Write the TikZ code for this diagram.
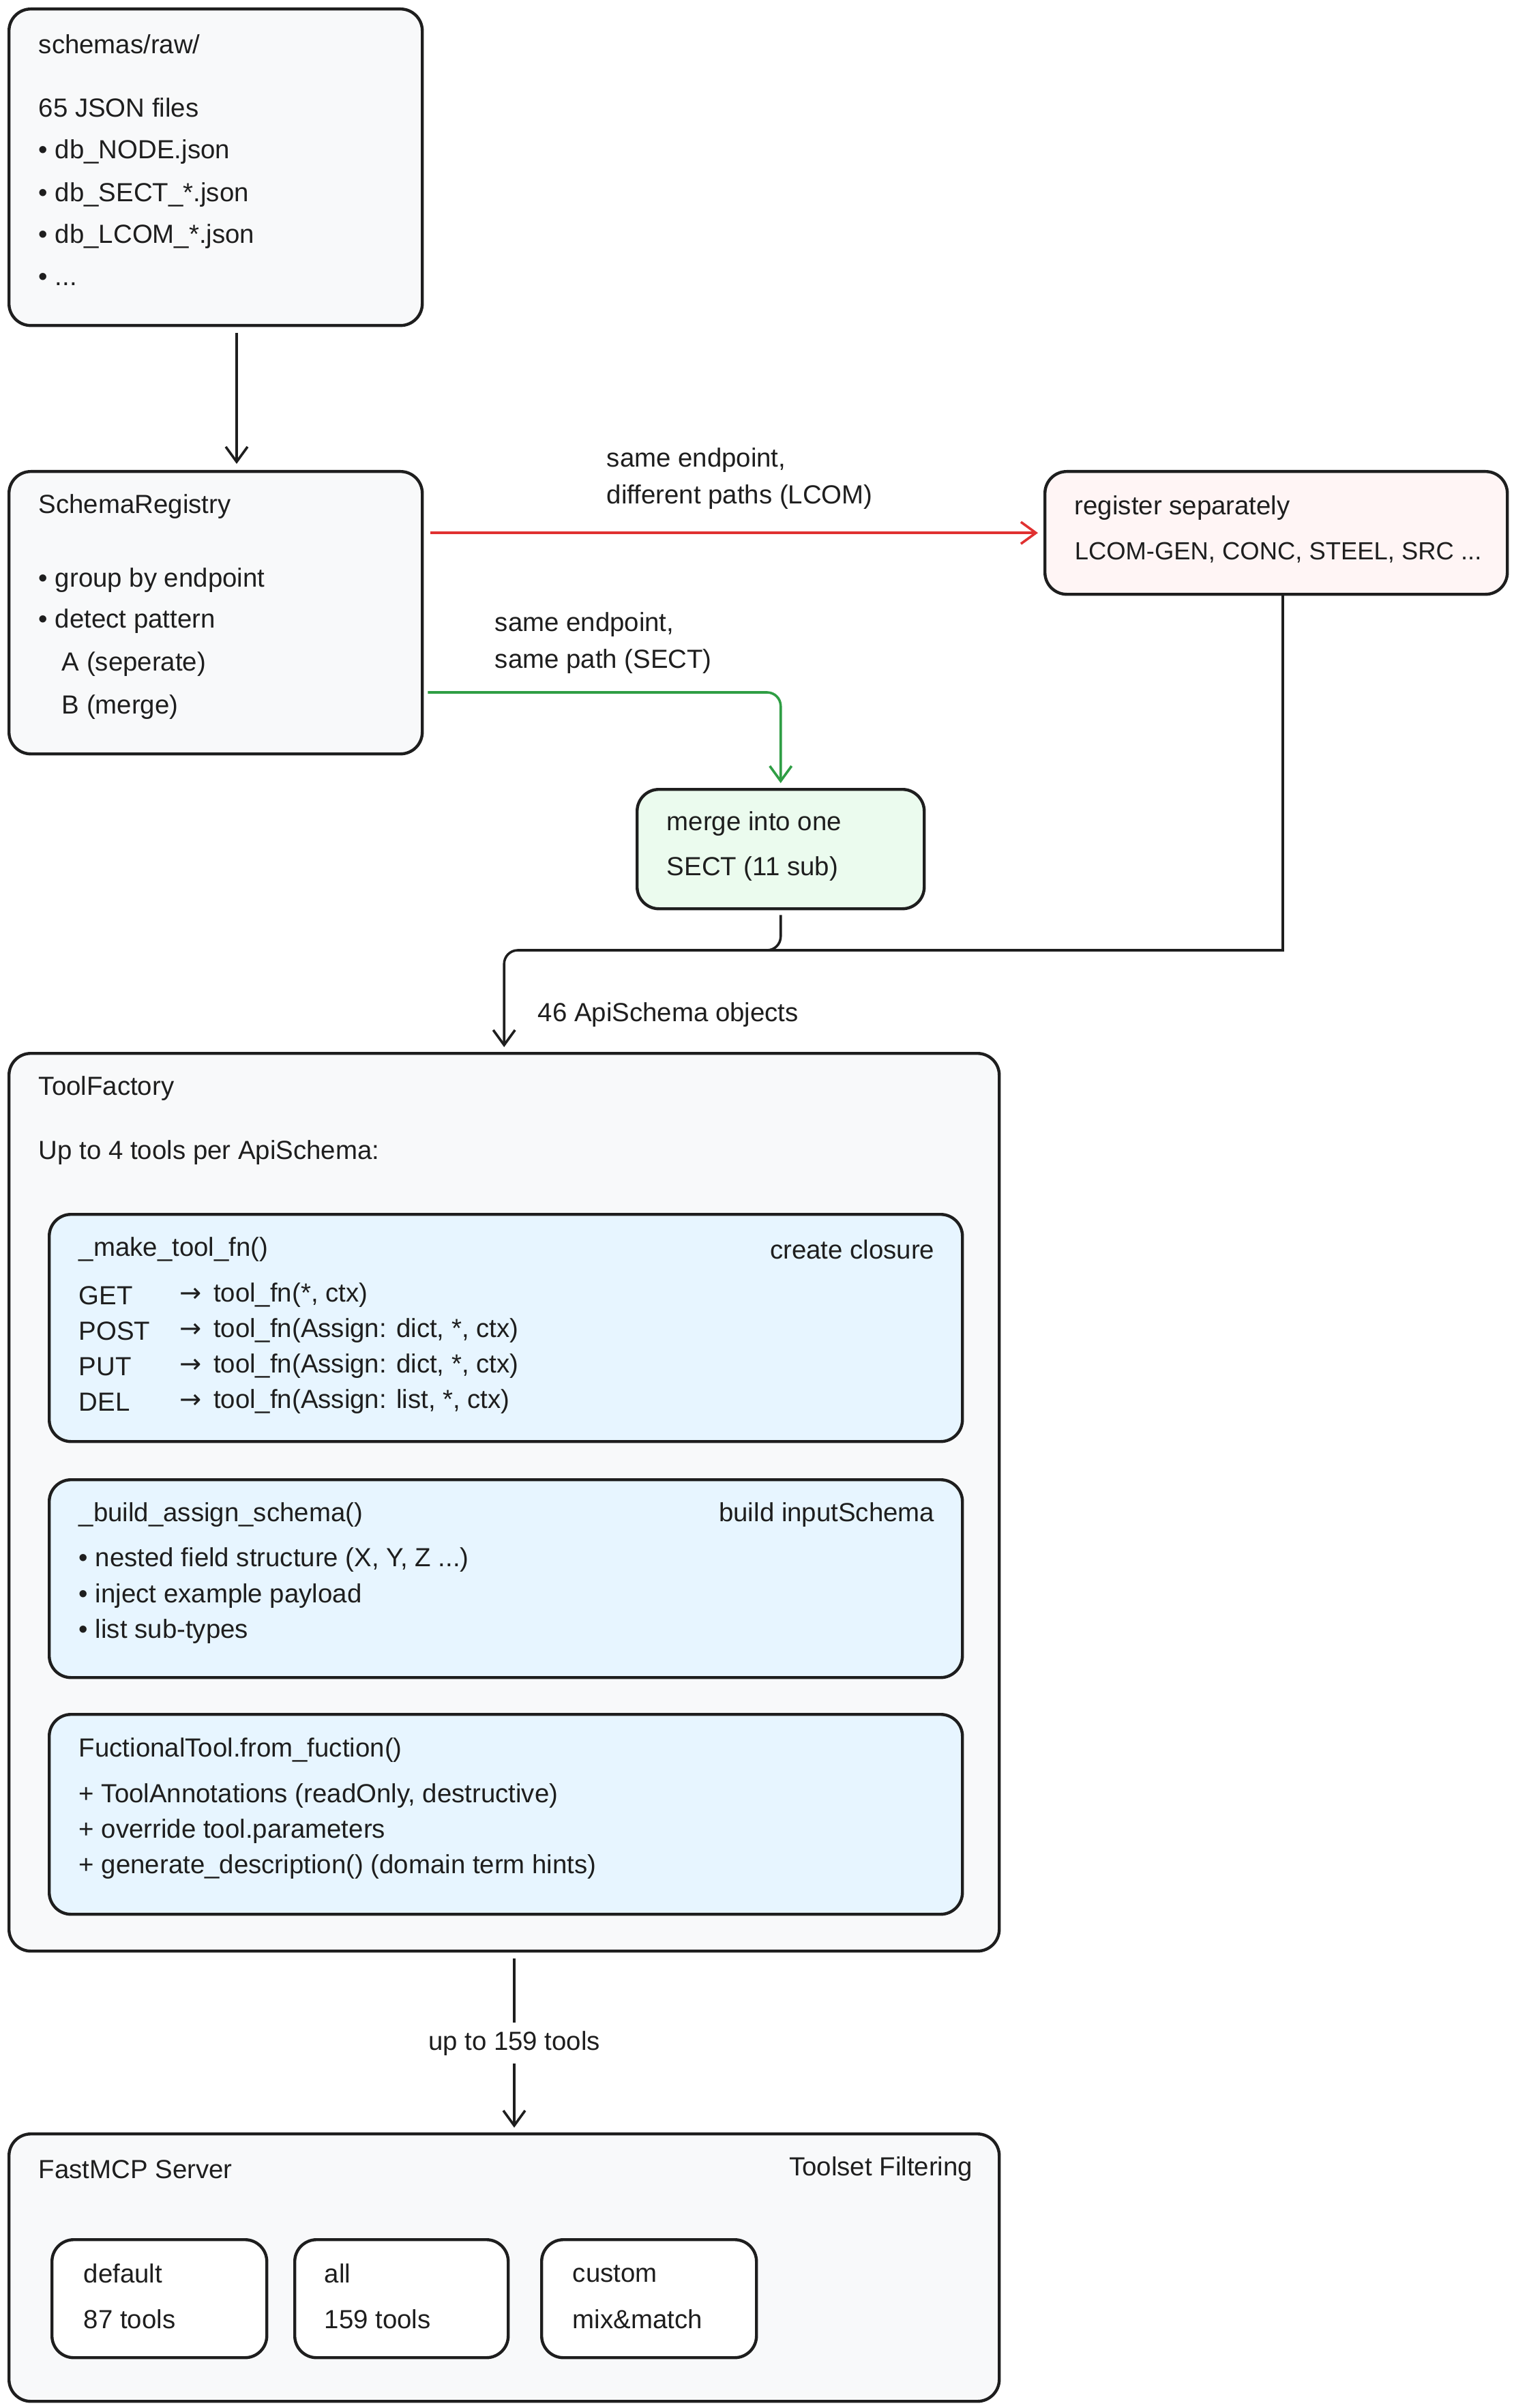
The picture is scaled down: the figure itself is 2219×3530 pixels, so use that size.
\documentclass[tikz,border=0pt]{standalone}
\usepackage{fontspec}
\setmainfont{Liberation Sans}
\newfontfamily\arrfont{DejaVu Sans}
\usetikzlibrary{arrows.meta}
\definecolor{stroke}{HTML}{1E1E1E}
\definecolor{grayfill}{HTML}{F8F9FA}
\definecolor{redfill}{HTML}{FFF5F5}
\definecolor{greenfill}{HTML}{EBFBEE}
\definecolor{bluefill}{HTML}{E7F5FF}
\definecolor{redline}{HTML}{E03131}
\definecolor{greenline}{HTML}{2F9E44}
\tikzset{
  box/.style={draw=stroke, line width=1.1pt, rounded corners=8pt, anchor=north west, inner sep=0pt},
  graybox/.style={box, fill=grayfill},
  redbox/.style={box, fill=redfill},
  greenbox/.style={box, fill=greenfill},
  bluebox/.style={box, fill=bluefill},
  whitebox/.style={box, fill=white},
  txt/.style={anchor=west, inner sep=0pt, font=\fontsize{9.6}{11}\selectfont, text=stroke},
  rtxt/.style={txt, anchor=east},
  conn/.style={draw=stroke, line width=0.9pt},
  arr/.style={conn, -{Straight Barb[length=5.5pt,width=8pt]}},
  redarr/.style={arr, draw=redline},
  greenarr/.style={arr, draw=greenline, rounded corners=5pt},
}
\begin{document}
\begin{tikzpicture}[x=0.25pt,y=-0.25pt]
\useasboundingbox (0,0) rectangle (2219,3530);
\fill[white] (0,0) rectangle (2219,3530);

% boxes
\node[graybox, minimum width=151.5pt, minimum height=116pt] (schemas) at (11,11) {};
\node[graybox, minimum width=151.5pt, minimum height=103.5pt] (sr) at (11,689) {};
\node[redbox, minimum width=169.5pt, minimum height=45pt] (reg) at (1530,689) {};
\node[greenbox, minimum width=105.25pt, minimum height=43.75pt] (merge) at (932,1155) {};
\node[graybox, minimum width=363pt, minimum height=329pt] (tf) at (11,1542) {};
\node[bluebox, minimum width=334.75pt, minimum height=83.25pt] (mk) at (70,1778) {};
\node[bluebox, minimum width=334.75pt, minimum height=72.5pt] (bd) at (70,2167) {};
\node[bluebox, minimum width=334.75pt, minimum height=73.25pt] (ft) at (70,2511) {};
\node[graybox, minimum width=363pt, minimum height=98pt] (fast) at (11,3126) {};
\node[whitebox, minimum width=78.75pt, minimum height=43.25pt] (def) at (74,3281) {};
\node[whitebox, minimum width=78.25pt, minimum height=43.25pt] (all) at (430,3281) {};
\node[whitebox, minimum width=78.75pt, minimum height=43.25pt] (cus) at (792,3281) {};

% schemas text
\node[txt] (s1) at (56,65) {schemas/raw/};
\node[txt] (s2) at (56,158) {65 JSON files};
\node[txt] (s3) at (56,223) {• db\_NODE.json};
\node[txt] (s4) at (56,286) {• db\_SECT\_*.json};
\node[txt] (s5) at (56,347) {• db\_LCOM\_*.json};
\node[txt] (s6) at (56,410) {• ...};

% registry text
\node[txt] (r1) at (56,743) {SchemaRegistry};
\node[txt] (r2) at (56,851) {• group by endpoint};
\node[txt] (r3) at (56,911) {• detect pattern};
\node[txt] (r4) at (90,974) {A (seperate)};
\node[txt] (r5) at (90,1037) {B (merge)};

% register separately
\node[txt] (g1) at (1575,745) {register separately};
\node[txt, font=\fontsize{9.1}{11}\selectfont] (g2) at (1575,810) {LCOM-GEN, CONC, STEEL, SRC ...};

% merge
\node[txt] (m1) at (977,1208) {merge into one};
\node[txt] (m2) at (977,1274) {SECT (11 sub)};

% tool factory
\node[txt] (t1) at (56,1596) {ToolFactory};
\node[txt] (t2) at (56,1690) {Up to 4 tools per ApiSchema:};

\node[txt] (k0) at (115,1832) {\_make\_tool\_fn()};
\node[rtxt] (k0r) at (1371,1832) {create closure};
\node[txt] (k1m) at (115,1899) {GET};
\node[txt] (k1a) at (263,1899) {{\arrfont →}\, tool\_fn(*, ctx)};
\node[txt] (k2m) at (115,1951) {POST};
\node[txt] (k2a) at (263,1951) {{\arrfont →}\, tool\_fn(Assign: dict, *, ctx)};
\node[txt] (k3m) at (115,2003) {PUT};
\node[txt] (k3a) at (263,2003) {{\arrfont →}\, tool\_fn(Assign: dict, *, ctx)};
\node[txt] (k4m) at (115,2055) {DEL};
\node[txt] (k4a) at (263,2055) {{\arrfont →}\, tool\_fn(Assign: list, *, ctx)};

\node[txt] (b0) at (115,2221) {\_build\_assign\_schema()};
\node[rtxt] (b0r) at (1371,2221) {build inputSchema};
\node[txt] (b1) at (115,2287) {• nested field structure (X, Y, Z ...)};
\node[txt] (b2) at (115,2340) {• inject example payload};
\node[txt] (b3) at (115,2392) {• list sub-types};

\node[txt] (f0) at (115,2566) {FuctionalTool.from\_fuction()};
\node[txt] (f1) at (115,2633) {+ ToolAnnotations (readOnly, destructive)};
\node[txt] (f2) at (115,2685) {+ override tool.parameters};
\node[txt] (f3) at (115,2737) {+ generate\_description() (domain term hints)};

% fastmcp
\node[txt] (p0) at (56,3180) {FastMCP Server};
\node[rtxt] (p0r) at (1427,3180) {Toolset Filtering};
\node[txt] (d1) at (122,3333) {default};
\node[txt] (d2) at (122,3400) {87 tools};
\node[txt] (a1) at (475,3333) {all};
\node[txt] (a2) at (475,3400) {159 tools};
\node[txt] (c1) at (839,3333) {custom};
\node[txt] (c2) at (839,3400) {mix\&match};

% connector labels
\node[txt] (lr1) at (889,675) {same endpoint,};
\node[txt] (lr2) at (889,729) {different paths (LCOM)};
\node[txt] (lg1) at (725,916) {same endpoint,};
\node[txt] (lg2) at (725,970) {same path (SECT)};
\node[txt] (l46) at (788,1488) {46 ApiSchema objects};

% coordinates
\coordinate (ax) at (347,0);
\coordinate (gy) at (0,1015);
\coordinate (jy) at (0,1393);
\coordinate (jx) at (1118,0);
\coordinate (bx) at (754,0);

% connectors
\draw[arr] (schemas.south -| ax) ++(0,9) -- ([yshift=2.25pt]sr.north -| ax);
\draw[redarr] ([xshift=2.5pt]sr.east |- reg.west) -- ([xshift=-2pt]reg.west);
\draw[greenarr] ([xshift=1.5pt]sr.east |- gy) -| ([yshift=1.75pt]merge.north);
\draw[conn] ([xshift=2.5pt]reg.south) |- (jx |- jy);
\draw[arr, rounded corners=5pt] ([yshift=-1.75pt]merge.south) |- (tf.north |- jy) -- ([yshift=1.75pt]tf.north);
\draw[arr] ([yshift=-2.25pt]tf.south -| bx) -- node[fill=white, txt, anchor=center, inner sep=3pt] (l159) {up to 159 tools} ([yshift=1.75pt]fast.north -| bx);
\end{tikzpicture}
\end{document}
